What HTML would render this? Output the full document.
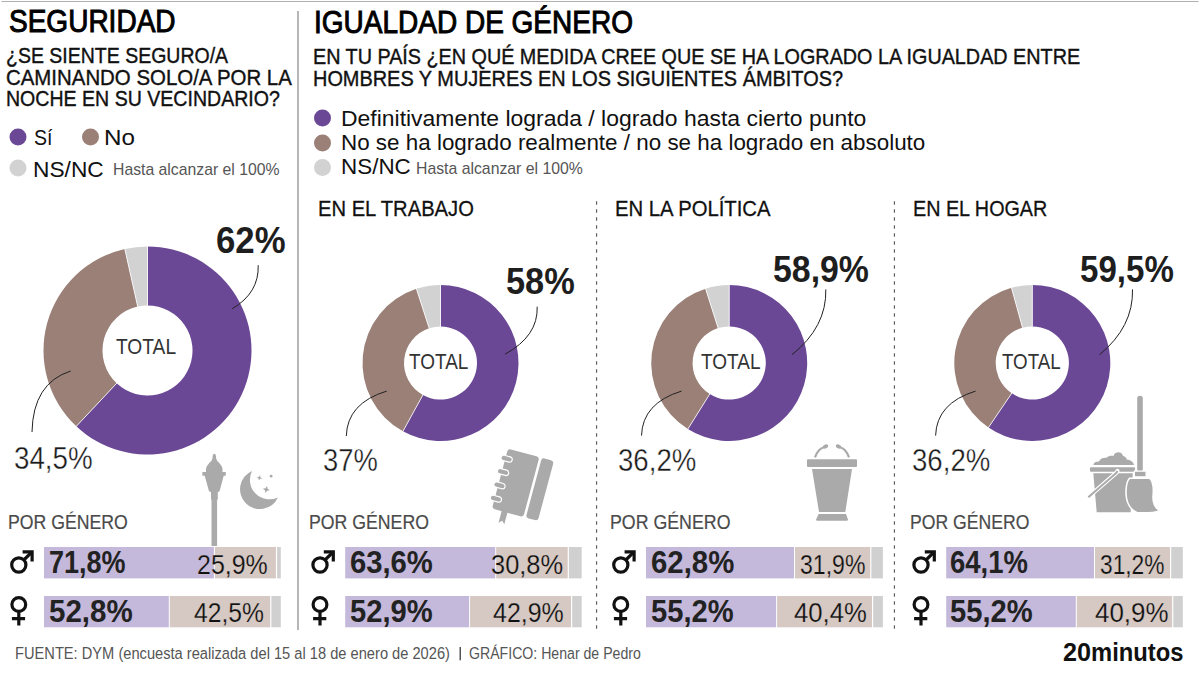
<!DOCTYPE html>
<html><head><meta charset="utf-8"><style>
html,body{margin:0;padding:0;background:#fff;width:1200px;height:675px;overflow:hidden}
.t{position:absolute;white-space:pre;font-family:"Liberation Sans",sans-serif;transform-origin:0 0}
svg{position:absolute;left:0;top:0}
</style></head><body>
<svg width="1200" height="675" viewBox="0 0 1200 675">
<rect x="459.5" y="647" width="1.5" height="13.3" fill="#555"/>
<path fill="#6a4895" d="M147.50,246.50 A104,104 0 1 1 76.31,426.31 L116.70,383.30 A45,45 0 1 0 147.50,305.50 Z"/><path fill="#9a8077" d="M76.31,426.31 A104,104 0 0 1 124.81,249.00 L137.68,306.58 A45,45 0 0 0 116.70,383.30 Z"/><path fill="#d2d2d2" d="M124.81,249.00 A104,104 0 0 1 147.50,246.50 L147.50,305.50 A45,45 0 0 0 137.68,306.58 Z"/><line x1="147.50" y1="306.50" x2="147.50" y2="245.50" stroke="#fff" stroke-width="0.8"/><line x1="117.38" y1="382.57" x2="75.62" y2="427.04" stroke="#fff" stroke-width="0.8"/><line x1="137.90" y1="307.56" x2="124.59" y2="248.03" stroke="#fff" stroke-width="0.8"/>
<path fill="#6a4895" d="M440.50,285.00 A78,78 0 1 1 402.92,431.35 L422.92,394.99 A36.5,36.5 0 1 0 440.50,326.50 Z"/><path fill="#9a8077" d="M402.92,431.35 A78,78 0 0 1 416.40,288.82 L429.22,328.29 A36.5,36.5 0 0 0 422.92,394.99 Z"/><path fill="#d2d2d2" d="M416.40,288.82 A78,78 0 0 1 440.50,285.00 L440.50,326.50 A36.5,36.5 0 0 0 429.22,328.29 Z"/><line x1="440.50" y1="327.50" x2="440.50" y2="284.00" stroke="#fff" stroke-width="0.8"/><line x1="423.40" y1="394.11" x2="402.44" y2="432.23" stroke="#fff" stroke-width="0.8"/><line x1="429.53" y1="329.24" x2="416.09" y2="287.87" stroke="#fff" stroke-width="0.8"/>
<path fill="#6a4895" d="M729.20,285.00 A78,78 0 1 1 687.82,429.12 L709.78,394.03 A36.6,36.6 0 1 0 729.20,326.40 Z"/><path fill="#9a8077" d="M687.82,429.12 A78,78 0 0 1 705.56,288.67 L718.11,328.12 A36.6,36.6 0 0 0 709.78,394.03 Z"/><path fill="#d2d2d2" d="M705.56,288.67 A78,78 0 0 1 729.20,285.00 L729.20,326.40 A36.6,36.6 0 0 0 718.11,328.12 Z"/><line x1="729.20" y1="327.40" x2="729.20" y2="284.00" stroke="#fff" stroke-width="0.8"/><line x1="710.31" y1="393.18" x2="687.29" y2="429.97" stroke="#fff" stroke-width="0.8"/><line x1="718.41" y1="329.07" x2="705.26" y2="287.71" stroke="#fff" stroke-width="0.8"/>
<path fill="#6a4895" d="M1032.30,285.00 A78,78 0 1 1 988.46,427.51 L1011.73,393.27 A36.6,36.6 0 1 0 1032.30,326.40 Z"/><path fill="#9a8077" d="M988.46,427.51 A78,78 0 0 1 1011.48,287.83 L1022.53,327.73 A36.6,36.6 0 0 0 1011.73,393.27 Z"/><path fill="#d2d2d2" d="M1011.48,287.83 A78,78 0 0 1 1032.30,285.00 L1032.30,326.40 A36.6,36.6 0 0 0 1022.53,327.73 Z"/><line x1="1032.30" y1="327.40" x2="1032.30" y2="284.00" stroke="#fff" stroke-width="0.8"/><line x1="1012.29" y1="392.44" x2="987.90" y2="428.34" stroke="#fff" stroke-width="0.8"/><line x1="1022.80" y1="328.69" x2="1011.21" y2="286.87" stroke="#fff" stroke-width="0.8"/>
<path d="M258.2,265.2 Q259.2,292.775 232.3,308.7" fill="none" stroke="#222" stroke-width="1"/>
<path d="M537.2,306.7 Q538.2,336.075 505,354.2" fill="none" stroke="#222" stroke-width="1"/>
<path d="M825.8,289.4 Q826.8,326.78499999999997 792,354.7" fill="none" stroke="#222" stroke-width="1"/>
<path d="M1132.5,289.4 Q1133.5,326.78499999999997 1099.5,354.7" fill="none" stroke="#222" stroke-width="1"/>
<path d="M70.7,371 Q33,383 32,432" fill="none" stroke="#222" stroke-width="1"/>
<path d="M386.7,391.1 Q347.3,403.1 346.3,436" fill="none" stroke="#222" stroke-width="1"/>
<path d="M681.5,391.1 Q642.5,403.1 641.5,435.6" fill="none" stroke="#222" stroke-width="1"/>
<path d="M975.6,391.1 Q936.6,403.1 935.6,435.6" fill="none" stroke="#222" stroke-width="1"/>
<circle cx="18" cy="137" r="8.5" fill="#6a4895"/>
<circle cx="90.5" cy="137" r="8.5" fill="#9a8077"/>
<circle cx="18" cy="168" r="8.5" fill="#d2d2d2"/>
<circle cx="322.5" cy="118" r="8.5" fill="#6a4895"/>
<circle cx="322.5" cy="143" r="8.5" fill="#9a8077"/>
<circle cx="322.5" cy="167.5" r="8.5" fill="#d2d2d2"/>
<rect x="44" y="547" width="169.90" height="31.40" fill="#c4b8db"/>
<rect x="214.90" y="547" width="61.00" height="31.40" fill="#d6c8c2"/>
<rect x="277.10" y="547" width="3.70" height="31.40" fill="#d0d0d0"/>
<rect x="44" y="596" width="124.80" height="31.30" fill="#c4b8db"/>
<rect x="169.80" y="596" width="100.40" height="31.30" fill="#d6c8c2"/>
<rect x="271.40" y="596" width="9.40" height="31.30" fill="#d0d0d0"/>
<rect x="345.2" y="547" width="150.00" height="31.40" fill="#c4b8db"/>
<rect x="496.20" y="547" width="71.50" height="31.40" fill="#d6c8c2"/>
<rect x="568.90" y="547" width="12.80" height="31.40" fill="#d0d0d0"/>
<rect x="345.2" y="596" width="123.90" height="31.30" fill="#c4b8db"/>
<rect x="470.10" y="596" width="100.90" height="31.30" fill="#d6c8c2"/>
<rect x="572.20" y="596" width="9.50" height="31.30" fill="#d0d0d0"/>
<rect x="646" y="547" width="148.00" height="31.40" fill="#c4b8db"/>
<rect x="795.00" y="547" width="75.20" height="31.40" fill="#d6c8c2"/>
<rect x="871.40" y="547" width="11.50" height="31.40" fill="#d0d0d0"/>
<rect x="646" y="596" width="130.10" height="31.30" fill="#c4b8db"/>
<rect x="777.10" y="596" width="94.90" height="31.30" fill="#d6c8c2"/>
<rect x="873.20" y="596" width="9.70" height="31.30" fill="#d0d0d0"/>
<rect x="946.2" y="547" width="147.80" height="31.40" fill="#c4b8db"/>
<rect x="1095.00" y="547" width="75.00" height="31.40" fill="#d6c8c2"/>
<rect x="1171.20" y="547" width="11.60" height="31.40" fill="#d0d0d0"/>
<rect x="946.2" y="596" width="129.60" height="31.30" fill="#c4b8db"/>
<rect x="1076.80" y="596" width="95.30" height="31.30" fill="#d6c8c2"/>
<rect x="1173.30" y="596" width="9.50" height="31.30" fill="#d0d0d0"/>
<line x1="1.5" y1="1.5" x2="1198.5" y2="1.5" stroke="#b0b0b0" stroke-width="1.1"/>
<line x1="298" y1="11" x2="298" y2="630" stroke="#858585" stroke-width="1.2"/>
<line x1="596.6" y1="201.2" x2="596.6" y2="630" stroke="#555" stroke-width="1.1" stroke-dasharray="3.5 4.5"/>
<line x1="894.4" y1="201.2" x2="894.4" y2="630" stroke="#555" stroke-width="1.1" stroke-dasharray="3.5 4.5"/>
<g fill="none" stroke="#111" stroke-width="3.2"><circle cx="18.80" cy="565" r="7.1"/><path d="M23.80,560 L32.00,551.8" stroke-linecap="butt"/><path d="M22.60,551.9 H32.10 V561.4" stroke-linecap="butt"/></g>
<g fill="none" stroke="#111" stroke-width="3.2"><circle cx="18.80" cy="604.5" r="6.9"/><path d="M18.80,611.4 V625.5 M11.90,618.6 H25.10"/></g>
<g fill="none" stroke="#111" stroke-width="3.2"><circle cx="320.00" cy="565" r="7.1"/><path d="M325.00,560 L333.20,551.8" stroke-linecap="butt"/><path d="M323.80,551.9 H333.30 V561.4" stroke-linecap="butt"/></g>
<g fill="none" stroke="#111" stroke-width="3.2"><circle cx="320.00" cy="604.5" r="6.9"/><path d="M320.00,611.4 V625.5 M313.10,618.6 H326.30"/></g>
<g fill="none" stroke="#111" stroke-width="3.2"><circle cx="620.80" cy="565" r="7.1"/><path d="M625.80,560 L634.00,551.8" stroke-linecap="butt"/><path d="M624.60,551.9 H634.10 V561.4" stroke-linecap="butt"/></g>
<g fill="none" stroke="#111" stroke-width="3.2"><circle cx="620.80" cy="604.5" r="6.9"/><path d="M620.80,611.4 V625.5 M613.90,618.6 H627.10"/></g>
<g fill="none" stroke="#111" stroke-width="3.2"><circle cx="921.00" cy="565" r="7.1"/><path d="M926.00,560 L934.20,551.8" stroke-linecap="butt"/><path d="M924.80,551.9 H934.30 V561.4" stroke-linecap="butt"/></g>
<g fill="none" stroke="#111" stroke-width="3.2"><circle cx="921.00" cy="604.5" r="6.9"/><path d="M921.00,611.4 V625.5 M914.10,618.6 H927.30"/></g>
<g fill="#aaaaaa"><path d="M214.3,453.8 C215.6,453.8 216.2,456 216,458 L217.2,461 C219.5,463 221.8,465.5 222.5,468.5 L222.5,472 L225.8,472 L225.8,475.8 L223.7,475.8 L219.8,490.5 Q219.3,492 217.8,492 L217.8,499.5 L217.1,499.5 L217.1,546 L211.5,546 L211.5,499.5 L211,499.5 L211,492 Q209.3,492 208.8,490.5 L204.7,475.8 L202.4,475.8 L202.4,472 L206,472 L206,468.5 C206.8,465.5 209,463 211.4,461 L212.6,458 C212.4,456 213,453.8 214.3,453.8 Z"/></g>
<path fill="#aaaaaa" d="M252,471.1 A19.8,19.8 0 1 0 277.9,497.4 A19.5,19.5 0 0 1 252,471.1 Z"/>
<path transform="rotate(12 266.3 489.5)" fill="#aaaaaa" d="M266.3,485.9 L267.38,488.42 L269.90000000000003,489.5 L267.38,490.58 L266.3,493.1 L265.22,490.58 L262.7,489.5 L265.22,488.42 Z"/>
<path transform="rotate(12 259.5 477.9)" fill="#aaaaaa" d="M259.5,475.2 L260.31,477.09 L262.2,477.9 L260.31,478.71 L259.5,480.59999999999997 L258.69,478.71 L256.8,477.9 L258.69,477.09 Z"/>
<circle cx="271.1" cy="476.2" r="1.4" fill="#aaaaaa"/>
<g transform="translate(508,448.7) rotate(15)" fill="#aaaaaa"><rect x="0" y="0" width="32.5" height="62" rx="3"/><rect x="35" y="0" width="12.5" height="62" rx="3"/><path d="M10,60 L16,60 L16,74 L13,71 L10,74 Z"/><rect x="-4.5" y="7.3" width="11.5" height="5.4" rx="2.7" stroke="#fff" stroke-width="1.2"/><rect x="-4.5" y="21.1" width="11.5" height="5.4" rx="2.7" stroke="#fff" stroke-width="1.2"/><rect x="-4.5" y="34.9" width="11.5" height="5.4" rx="2.7" stroke="#fff" stroke-width="1.2"/><rect x="-4.5" y="48.7" width="11.5" height="5.4" rx="2.7" stroke="#fff" stroke-width="1.2"/></g>
<g fill="#aaaaaa"><rect x="807" y="459.3" width="50" height="7.7" rx="1"/><path d="M812,469.1 L852,469.1 L845.3,512 L819,512 Z"/><path d="M818.7,514 L846,514 L848,519.5 Q848,520.7 846.5,520.7 L817.5,520.7 Q816,520.7 816,519.5 Z"/><path d="M815,457.3 Q818,449 823.5,447.5" fill="none" stroke="#aaaaaa" stroke-width="2.2"/><path d="M849,457.3 Q846,449 840.5,447.5" fill="none" stroke="#aaaaaa" stroke-width="2.2"/><ellipse cx="825.5" cy="446.5" rx="2.8" ry="2" transform="rotate(-25 825.5 446.5)"/><ellipse cx="838.5" cy="446.5" rx="2.8" ry="2" transform="rotate(25 838.5 446.5)"/></g>
<g fill="#aaaaaa"><path d="M1093.5,465 C1093.5,462.5 1096,461.5 1099,461.5 C1100,459 1103,457.2 1106.5,457.8 C1108.5,456 1111,455.5 1113.5,456 C1114.5,451.5 1121.5,450.8 1123,455.8 C1125,456.5 1126.5,458 1126.8,459.5 C1130,460 1133.5,461.5 1134,465 Z"/><rect x="1090" y="467.2" width="45" height="4.5" rx="1"/><path d="M1093.3,473.3 L1132.8,473.3 L1130.6,512.2 L1096.7,512.2 Z"/><path d="M1088.3,497.2 L1114.5,474.5 Q1116.5,473 1117.5,471" fill="none" stroke="#fff" stroke-width="4.2" stroke-linecap="round"/><path d="M1088.3,497.2 L1114.5,474.5 Q1116.5,473 1117.5,471" fill="none" stroke="#aaaaaa" stroke-width="2"/><rect x="1137.2" y="395.8" width="5.6" height="76" rx="2.8"/><path d="M1134.4,471.1 L1146.1,471.1 L1146.1,476.9 L1134.4,476.9 Z" stroke="#fff" stroke-width="1.2"/><path d="M1129.5,478.3 L1149.8,478.3 C1154,482 1153.5,492 1153,497 C1153,503 1155.5,508 1159.6,510.6 C1155,512.8 1145,513 1137.2,512.8 C1131,510 1126,503 1126,492.5 C1126,486 1127,481 1129.5,478.3 Z" stroke="#fff" stroke-width="1.6"/></g>
</svg>
<div class="t" style="left:9.40px;top:5.85px;font-size:31.3px;line-height:31.3px;font-weight:400;color:#000;transform:scaleX(0.8951);-webkit-text-stroke:1px #000">SEGURIDAD</div>
<div class="t" style="left:313.99px;top:6.85px;font-size:31.3px;line-height:31.3px;font-weight:400;color:#000;transform:scaleX(0.8946);-webkit-text-stroke:1px #000">IGUALDAD DE GÉNERO</div>
<div class="t" style="left:5.89px;top:44.38px;font-size:22.75px;line-height:22.75px;font-weight:400;color:#111;transform:scaleX(0.8569);-webkit-text-stroke:0.4px #111">¿SE SIENTE SEGURO/A</div>
<div class="t" style="left:6.06px;top:66.08px;font-size:22.75px;line-height:22.75px;font-weight:400;color:#111;transform:scaleX(0.8972);-webkit-text-stroke:0.4px #111">CAMINANDO SOLO/A POR LA</div>
<div class="t" style="left:5.67px;top:87.28px;font-size:22.75px;line-height:22.75px;font-weight:400;color:#111;transform:scaleX(0.8597);-webkit-text-stroke:0.4px #111">NOCHE EN SU VECINDARIO?</div>
<div class="t" style="left:313.14px;top:45.62px;font-size:22.46px;line-height:22.46px;font-weight:400;color:#111;transform:scaleX(0.8804);-webkit-text-stroke:0.4px #111">EN TU PAÍS ¿EN QUÉ MEDIDA CREE QUE SE HA LOGRADO LA IGUALDAD ENTRE</div>
<div class="t" style="left:313.13px;top:67.72px;font-size:22.46px;line-height:22.46px;font-weight:400;color:#111;transform:scaleX(0.8868);-webkit-text-stroke:0.4px #111">HOMBRES Y MUJERES EN LOS SIGUIENTES ÁMBITOS?</div>
<div class="t" style="left:34.15px;top:126.45px;font-size:22.9px;line-height:22.9px;font-weight:400;color:#111;transform:scaleX(0.8537)">Sí</div>
<div class="t" style="left:104.15px;top:126.45px;font-size:22.9px;line-height:22.9px;font-weight:400;color:#111;transform:scaleX(1.0566)">No</div>
<div class="t" style="left:33.26px;top:157.55px;font-size:22.9px;line-height:22.9px;font-weight:400;color:#111;transform:scaleX(0.9927)">NS/NC</div>
<div class="t" style="left:112.64px;top:161.21px;font-size:17.39px;line-height:17.39px;font-weight:400;color:#555;transform:scaleX(0.9077)">Hasta alcanzar el 100%</div>
<div class="t" style="left:341.18px;top:108.08px;font-size:22.03px;line-height:22.03px;font-weight:400;color:#111;transform:scaleX(1.0419)">Definitivamente lograda / logrado hasta cierto punto</div>
<div class="t" style="left:341.22px;top:132.18px;font-size:22.03px;line-height:22.03px;font-weight:400;color:#111;transform:scaleX(1.0179)">No se ha logrado realmente / no se ha logrado en absoluto</div>
<div class="t" style="left:341.22px;top:155.98px;font-size:22.03px;line-height:22.03px;font-weight:400;color:#111;transform:scaleX(1.0190)">NS/NC</div>
<div class="t" style="left:415.64px;top:159.71px;font-size:17.39px;line-height:17.39px;font-weight:400;color:#555;transform:scaleX(0.9091)">Hasta alcanzar el 100%</div>
<div class="t" style="left:317.57px;top:197.64px;font-size:22.61px;line-height:22.61px;font-weight:400;color:#111;transform:scaleX(0.8922);-webkit-text-stroke:0.3px #111">EN EL TRABAJO</div>
<div class="t" style="left:615.26px;top:198.04px;font-size:22.61px;line-height:22.61px;font-weight:400;color:#111;transform:scaleX(0.8970);-webkit-text-stroke:0.3px #111">EN LA POLÍTICA</div>
<div class="t" style="left:913.30px;top:197.64px;font-size:22.61px;line-height:22.61px;font-weight:400;color:#111;transform:scaleX(0.8739);-webkit-text-stroke:0.3px #111">EN EL HOGAR</div>
<div class="t" style="left:115.55px;top:336.80px;font-size:21.3px;line-height:21.3px;font-weight:400;color:#333;transform:scaleX(0.9008)">TOTAL</div>
<div class="t" style="left:409.05px;top:351.90px;font-size:21.3px;line-height:21.3px;font-weight:400;color:#333;transform:scaleX(0.8901)">TOTAL</div>
<div class="t" style="left:701.05px;top:351.90px;font-size:21.3px;line-height:21.3px;font-weight:400;color:#333;transform:scaleX(0.8916)">TOTAL</div>
<div class="t" style="left:1002.26px;top:351.90px;font-size:21.3px;line-height:21.3px;font-weight:400;color:#333;transform:scaleX(0.8794)">TOTAL</div>
<div class="t" style="left:216.23px;top:222.45px;font-size:37.1px;line-height:37.1px;font-weight:700;color:#1e1e1e;transform:scaleX(0.9375)">62%</div>
<div class="t" style="left:506.16px;top:263.56px;font-size:36.38px;line-height:36.38px;font-weight:700;color:#1e1e1e;transform:scaleX(0.9442)">58%</div>
<div class="t" style="left:773.27px;top:251.56px;font-size:36.38px;line-height:36.38px;font-weight:700;color:#1e1e1e;transform:scaleX(0.9304)">58,9%</div>
<div class="t" style="left:1080.39px;top:251.56px;font-size:36.38px;line-height:36.38px;font-weight:700;color:#1e1e1e;transform:scaleX(0.9096)">59,5%</div>
<div class="t" style="left:14.35px;top:443.01px;font-size:31.67px;line-height:31.67px;font-weight:400;color:#1a1a1a;transform:scaleX(0.8766);-webkit-text-stroke:0.35px #fff">34,5%</div>
<div class="t" style="left:323.25px;top:444.69px;font-size:31.23px;line-height:31.23px;font-weight:400;color:#1a1a1a;transform:scaleX(0.8765);-webkit-text-stroke:0.35px #fff">37%</div>
<div class="t" style="left:618.34px;top:444.69px;font-size:31.23px;line-height:31.23px;font-weight:400;color:#1a1a1a;transform:scaleX(0.8847);-webkit-text-stroke:0.35px #fff">36,2%</div>
<div class="t" style="left:912.34px;top:444.69px;font-size:31.23px;line-height:31.23px;font-weight:400;color:#1a1a1a;transform:scaleX(0.8847);-webkit-text-stroke:0.35px #fff">36,2%</div>
<div class="t" style="left:7.89px;top:512.09px;font-size:20.72px;line-height:20.72px;font-weight:400;color:#4a4a4a;transform:scaleX(0.8532);-webkit-text-stroke:0.2px #4a4a4a">POR GÉNERO</div>
<div class="t" style="left:308.99px;top:512.09px;font-size:20.72px;line-height:20.72px;font-weight:400;color:#4a4a4a;transform:scaleX(0.8539);-webkit-text-stroke:0.2px #4a4a4a">POR GÉNERO</div>
<div class="t" style="left:609.99px;top:512.09px;font-size:20.72px;line-height:20.72px;font-weight:400;color:#4a4a4a;transform:scaleX(0.8576);-webkit-text-stroke:0.2px #4a4a4a">POR GÉNERO</div>
<div class="t" style="left:910.20px;top:512.09px;font-size:20.72px;line-height:20.72px;font-weight:400;color:#4a4a4a;transform:scaleX(0.8496);-webkit-text-stroke:0.2px #4a4a4a">POR GÉNERO</div>
<div class="t" style="left:48.74px;top:547.06px;font-size:31.88px;line-height:31.88px;font-weight:700;color:#222;transform:scaleX(0.8465)">71,8%</div>
<div class="t" style="left:48.87px;top:595.56px;font-size:31.88px;line-height:31.88px;font-weight:700;color:#222;transform:scaleX(0.9254)">52,8%</div>
<div class="t" style="left:349.65px;top:547.06px;font-size:31.88px;line-height:31.88px;font-weight:700;color:#222;transform:scaleX(0.9167)">63,6%</div>
<div class="t" style="left:349.89px;top:595.56px;font-size:31.88px;line-height:31.88px;font-weight:700;color:#222;transform:scaleX(0.9141)">52,9%</div>
<div class="t" style="left:650.75px;top:547.06px;font-size:31.88px;line-height:31.88px;font-weight:700;color:#222;transform:scaleX(0.9212)">62,8%</div>
<div class="t" style="left:650.99px;top:595.56px;font-size:31.88px;line-height:31.88px;font-weight:700;color:#222;transform:scaleX(0.9141)">55,2%</div>
<div class="t" style="left:950.32px;top:547.06px;font-size:31.88px;line-height:31.88px;font-weight:700;color:#222;transform:scaleX(0.8612)">64,1%</div>
<div class="t" style="left:950.49px;top:595.56px;font-size:31.88px;line-height:31.88px;font-weight:700;color:#222;transform:scaleX(0.9141)">55,2%</div>
<div class="t" style="left:197.16px;top:550.00px;font-size:28.19px;line-height:28.19px;font-weight:400;color:#111;transform:scaleX(0.8854);-webkit-text-stroke:0.25px #d6c8c2">25,9%</div>
<div class="t" style="left:194.25px;top:598.40px;font-size:28.19px;line-height:28.19px;font-weight:400;color:#111;transform:scaleX(0.8754);-webkit-text-stroke:0.25px #d6c8c2">42,5%</div>
<div class="t" style="left:491.39px;top:550.00px;font-size:28.19px;line-height:28.19px;font-weight:400;color:#111;transform:scaleX(0.9016);-webkit-text-stroke:0.25px #d6c8c2">30,8%</div>
<div class="t" style="left:493.45px;top:598.40px;font-size:28.19px;line-height:28.19px;font-weight:400;color:#111;transform:scaleX(0.8856);-webkit-text-stroke:0.25px #d6c8c2">42,9%</div>
<div class="t" style="left:800.48px;top:550.00px;font-size:28.19px;line-height:28.19px;font-weight:400;color:#111;transform:scaleX(0.8180);-webkit-text-stroke:0.25px #d6c8c2">31,9%</div>
<div class="t" style="left:794.23px;top:598.40px;font-size:28.19px;line-height:28.19px;font-weight:400;color:#111;transform:scaleX(0.9112);-webkit-text-stroke:0.25px #d6c8c2">40,4%</div>
<div class="t" style="left:1100.29px;top:550.00px;font-size:28.19px;line-height:28.19px;font-weight:400;color:#111;transform:scaleX(0.8064);-webkit-text-stroke:0.25px #d6c8c2">31,2%</div>
<div class="t" style="left:1094.52px;top:598.40px;font-size:28.19px;line-height:28.19px;font-weight:400;color:#111;transform:scaleX(0.9201);-webkit-text-stroke:0.25px #d6c8c2">40,9%</div>
<div class="t" style="left:1063.35px;top:638.96px;font-size:26.67px;line-height:26.67px;font-weight:700;color:#111;transform:scaleX(0.9455)">20</div>
<div class="t" style="left:1091.37px;top:639.94px;font-size:25.51px;line-height:25.51px;font-weight:700;color:#111;transform:scaleX(0.9326)">minutos</div>
<div class="t" style="left:15.35px;top:646.23px;font-size:15.94px;line-height:15.94px;font-weight:400;color:#555;transform:scaleX(0.9194)">FUENTE: DYM (encuesta realizada del 15 al 18 de enero de 2026)</div>
<div class="t" style="left:469.24px;top:646.23px;font-size:15.94px;line-height:15.94px;font-weight:400;color:#555;transform:scaleX(0.8857)">GRÁFICO: Henar de Pedro</div>
</body></html>
